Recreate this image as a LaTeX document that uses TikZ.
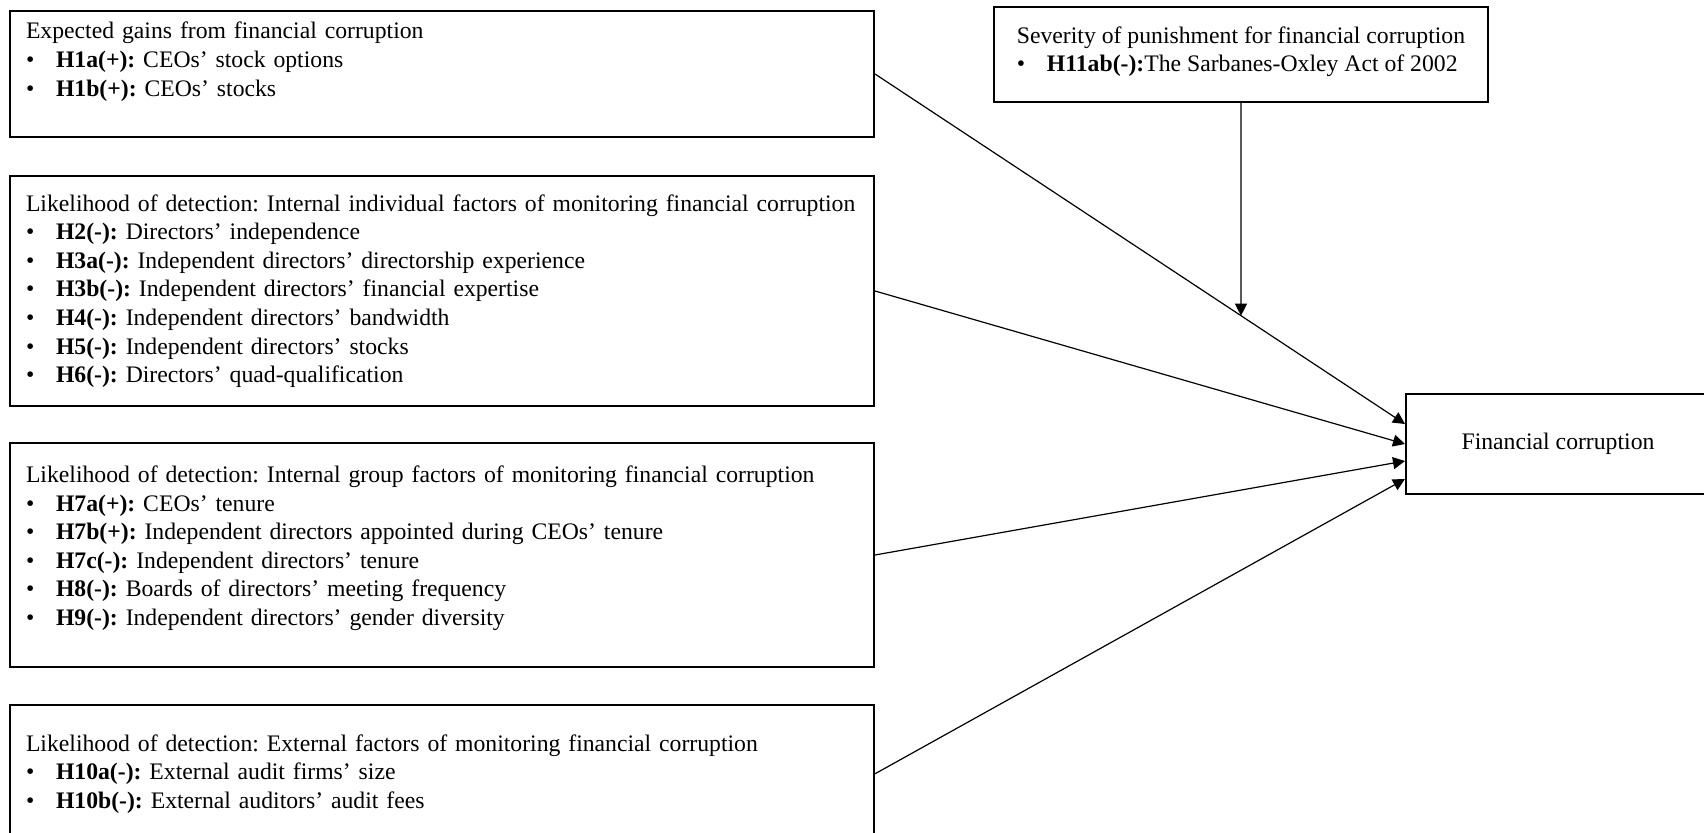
\documentclass[tikz,border=0pt]{standalone}
\usepackage{fontspec}
\setmainfont{Liberation Serif}
\usetikzlibrary{arrows.meta,intersections}
\frenchspacing
\newcommand{\hyp}[1]{\makebox[15pt][l]{\textbullet}\textbf{#1}}
\newcommand{\pad}[1]{\rule[-#1]{0pt}{0pt}}

\begin{document}
\begin{tikzpicture}[x=0.5pt, y=-0.5pt,
		every node/.style={font=\fontsize{11.85}{14.3}\selectfont\frenchspacing},
		factor/.style={draw, line width=1pt, anchor=north west, align=left, text width=416pt, inner xsep=8pt, inner ysep=0pt, minimum width=432pt},
		link/.style={-{Triangle[length=6pt,width=6pt]}, line width=0.6pt}]
			\useasboundingbox (0,0) rectangle (1704,833);
			% Nodes
			\node[factor, minimum height=63pt] (gains) at (9,10) {Expected gains from financial corruption\\
				\hyp{H1a(+):} CEOs’ stock options\\
				\hyp{H1b(+):} CEOs’ stocks\pad{14.8pt}};
			\node[factor, minimum height=115pt] (indiv) at (9,175) {\mbox{Likelihood of detection: Internal individual factors of monitoring financial corruption}\\
				\hyp{H2(-):} Directors’ independence\\
				\hyp{H3a(-):} Independent directors’ directorship experience\\
				\hyp{H3b(-):} Independent directors’ financial expertise\\
				\hyp{H4(-):} Independent directors’ bandwidth\\
				\hyp{H5(-):} Independent directors’ stocks\\
				\hyp{H6(-):} Directors’ quad-qualification};
			\node[factor, minimum height=112pt] (group) at (9,442) {Likelihood of detection: Internal group factors of monitoring financial corruption\\
				\hyp{H7a(+):} CEOs’ tenure\\
				\hyp{H7b(+):} Independent directors appointed during CEOs’ tenure\\
				\hyp{H7c(-):} Independent directors’ tenure\\
				\hyp{H8(-):} Boards of directors’ meeting frequency\\
				\hyp{H9(-):} Independent directors’ gender diversity\pad{9.3pt}};
			\node[factor, minimum height=68.8pt] (ext) at (9,704) {Likelihood of detection: External factors of monitoring financial corruption\\
				\hyp{H10a(-):} External audit firms’ size\\
				\hyp{H10b(-):} External auditors’ audit fees};
			\node[draw, line width=1pt, anchor=north west, align=left, inner sep=0pt, minimum width=247pt, minimum height=47.5pt] (sev) at (993,6) {Severity of punishment for financial corruption\\
				\hyp{H11ab(-):}The Sarbanes-Oxley Act of 2002\pad{5.4pt}};
			\node[draw, line width=1pt, anchor=north west, minimum width=152pt, minimum height=50pt] (fc) at (1405,393) {Financial corruption};
			\coordinate (in1) at ([yshift=10pt]fc.west);
			\coordinate (in3) at ([yshift=-8.5pt]fc.west);
			\coordinate (in4) at ([yshift=-17.5pt]fc.west);
			% Arrows
			\draw[link, name path=gainsline] (gains.east) -- (in1);
			\draw[link] (indiv.east) -- (fc.west);
			\draw[link] (group.east) -- (in3);
			\draw[link] (ext.east) -- (in4);
			\path[name path=sevline] (sev.south) -- ++(0,400);
			\path[name intersections={of=gainsline and sevline, by=meet}];
			\draw[link] (sev.south) -- (meet);
		\end{tikzpicture}
\end{document}
